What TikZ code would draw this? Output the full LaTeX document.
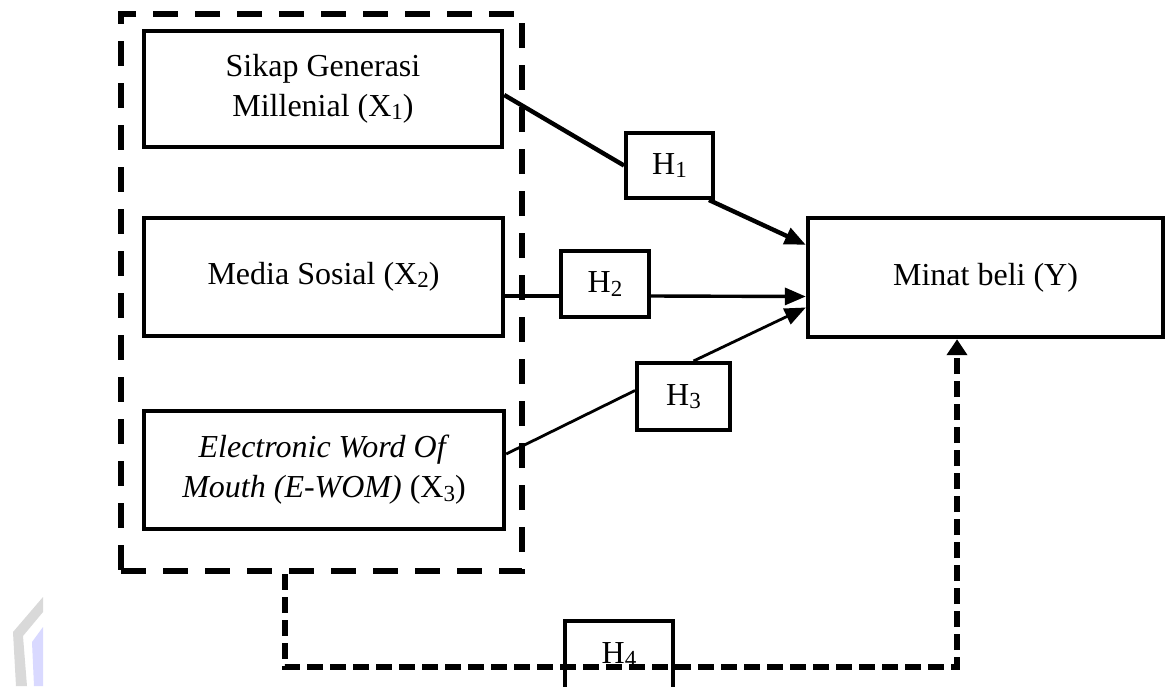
\documentclass[tikz,border=0pt]{standalone}
\usepackage{fontspec}
\setmainfont{Liberation Serif}
\usetikzlibrary{arrows.meta,calc}
\newcommand\sbs[1]{\raisebox{-1.6pt}{\fontsize{11.5}{11.5}\selectfont #1}}
\begin{document}
\begin{tikzpicture}[x=0.5pt,y=-0.5pt,
  varbox/.style={draw,line width=2.2pt,inner sep=0pt,align=center,font=\fontsize{16}{20}\selectfont},
  hbox/.style={draw,line width=2pt,inner sep=0pt,font=\fontsize{16}{20}\selectfont},
  grpbox/.style={draw,line width=3pt,dash pattern=on 12.5pt off 8.5pt,inner sep=0pt},
  link/.style={-{Triangle[length=10.5pt,width=8.5pt]}},
  h4link/.style={line width=3pt,dash pattern=on 8pt off 3.5pt,-{Triangle[length=8pt,width=10pt]}}
]
\useasboundingbox (0,0) rectangle (1171,686);
% faint watermark fragment
\fill[gray!30] (13,632) -- (43,597) -- (43,612) -- (23,636) -- (27,686) -- (16,686) -- cycle;
\fill[blue!15!white] (32,642) -- (43,627) -- (43,686) -- (34,686) -- cycle;
\node[grpbox,minimum width=200.5pt,minimum height=278.5pt] (grp) at (321.5,292.5) {};
\node[varbox,minimum width=179pt,minimum height=58pt] (x1) at (323,89) {Sikap Generasi\\Millenial (X\sbs{1})};
\node[varbox,minimum width=179.5pt,minimum height=59pt] (x2) at (323.5,277) {Media Sosial (X\sbs{2})};
\node[varbox,minimum width=180pt,minimum height=59pt] (x3) at (324,470) {\textit{Electronic Word Of}\\\textit{Mouth (E-WOM)} (X\sbs{3})};
\node[varbox,minimum width=177.5pt,minimum height=59.5pt] (y) at (985.5,277.5) {Minat beli (Y)};
\node[hbox,minimum width=43.5pt,minimum height=32.5pt] (h1) at (669.5,165.5) {H\sbs{1}};
\node[hbox,minimum width=44pt,minimum height=33pt] (h2) at (605,284) {H\sbs{2}};
\node[hbox,minimum width=46.5pt,minimum height=33.5pt] (h3) at (683.5,396.5) {H\sbs{3}};
\coordinate (c1) at (285,667);
\coordinate (c2) at (957,667);
% H1
\draw[line width=2.2pt] ([yshift=-3pt]x1.east) -- (h1.west);
\draw[line width=2.2pt,link] ([xshift=-3pt]h1.south east) -- ([yshift=-14.5pt]y.north west);
% H2
\draw[line width=1.7pt] ([yshift=-9.5pt]x2.east) -- ([yshift=-6pt]h2.west);
\draw[line width=1.7pt,link] ([yshift=-6pt]h2.east) -- ([yshift=-9.5pt]y.west);
% H3
\draw[line width=1.4pt] ([yshift=8pt]x3.east) -- ([yshift=3pt]h3.west);
\draw[line width=1.4pt,link] ([xshift=5pt]h3.north) -- ([yshift=-15pt]y.west);
% H4
\draw[h4link] (grp.south -| c1) -- (c1) -- (c2) -- (c2 |- y.south);
\node[hbox,minimum width=54pt,minimum height=35pt,text depth=0pt,anchor=north] (h4) at (619,619) {\raisebox{3pt}{H\sbs{4}}};
\end{tikzpicture}
\end{document}
